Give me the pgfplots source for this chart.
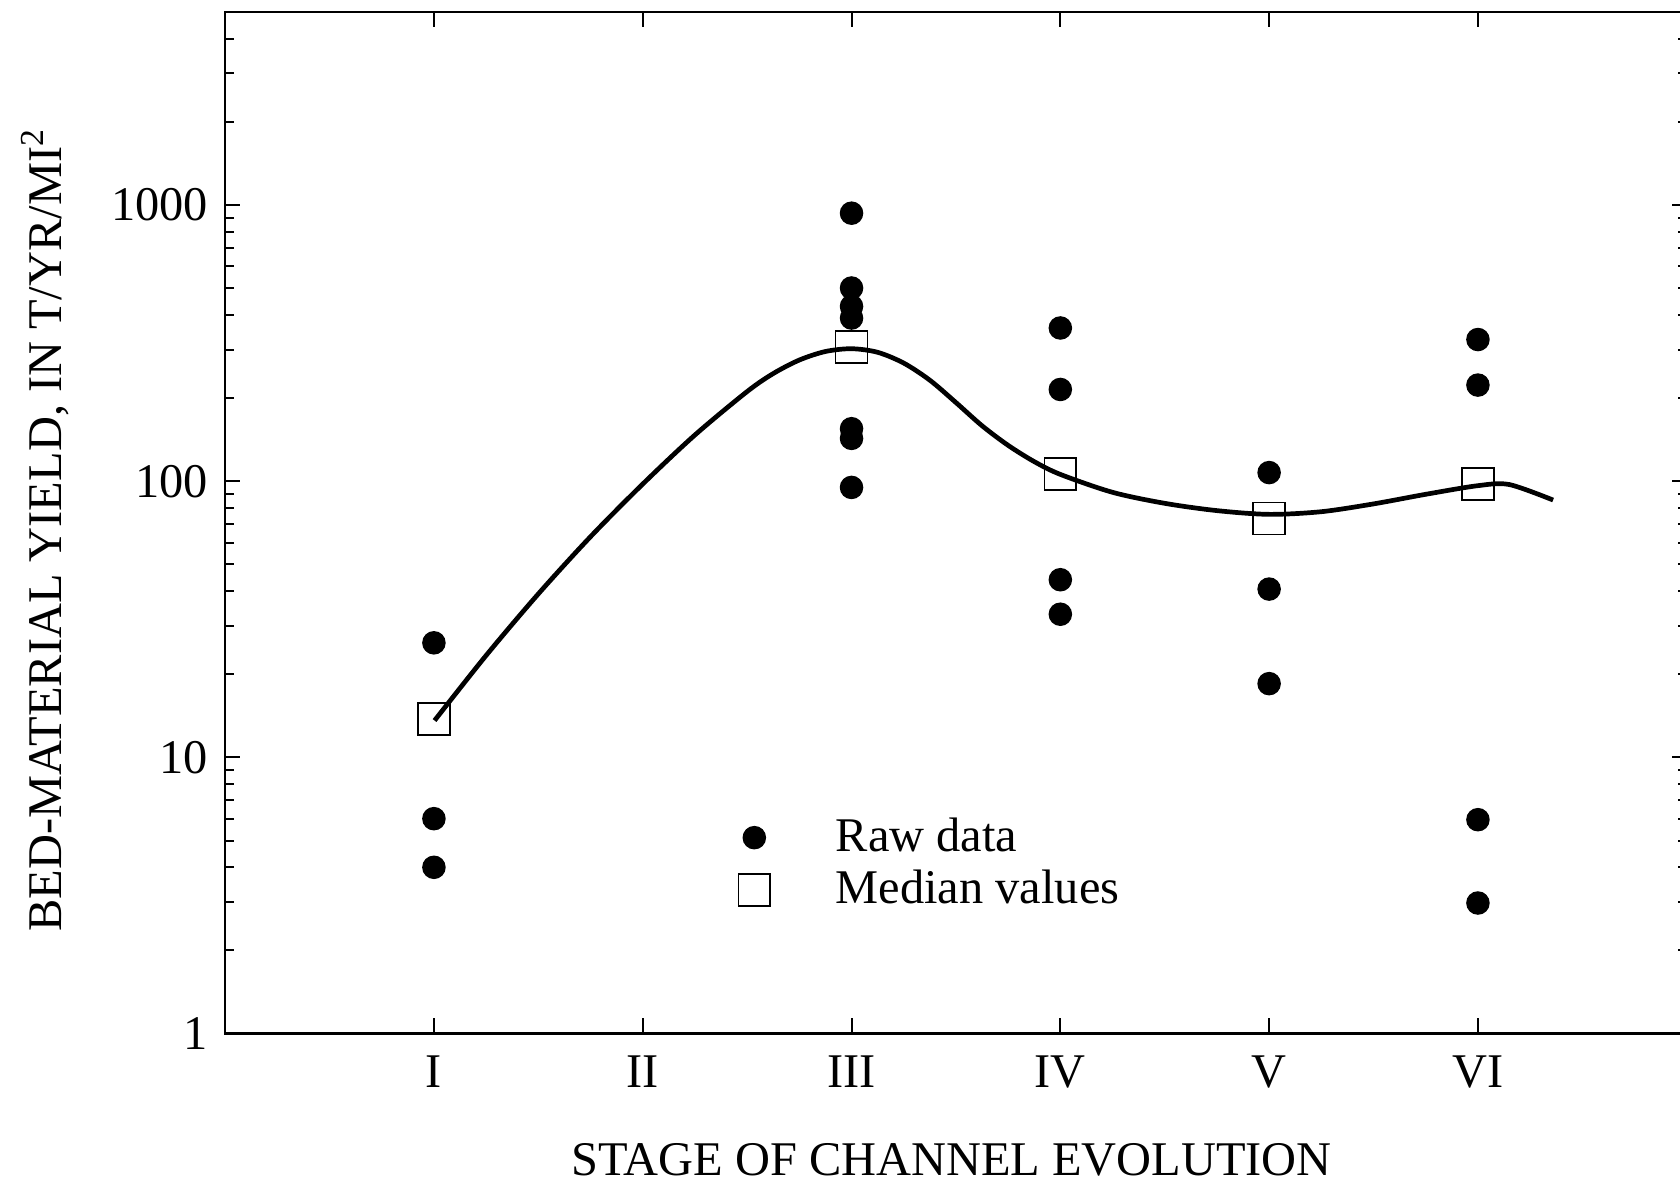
\documentclass[border=0pt]{standalone}
\usepackage{fontspec}
\setmainfont{Liberation Serif}
\usepackage{pgfplots}
\pgfplotsset{compat=1.18}
\pgfplotstableread{
x y
1 26
1 6.0
1 4.0
3 935
3 501
3 430
3 390
3 155
3 143
3 95
4 359
4 215
4 44
4 33
5 107.5
5 40.7
5 18.5
6 326
6 223
6 5.95
6 2.97
}\rawdata
\pgfplotstableread{
x y
1 13.8
3 306
4 106
5 73.3
6 97.6
}\mediandata
\pgfplotstableread{
x y
1.003 13.6
1.25 23.4
1.5 39.1
1.75 63.0
2.0 97.7
2.25 147.1
2.5 211.3
2.625 245.5
2.75 274.8
2.875 295.1
3.0 302.0
3.125 293.1
3.25 267.9
3.375 232.3
3.5 192.8
3.625 158.9
3.75 134.9
3.875 117.8
4.0 105.9
4.25 91.2
4.5 83.2
4.75 78.3
5.0 75.9
5.25 77.6
5.5 82.8
5.75 89.7
6.0 96.4
6.15 97.3
6.36 85.5
}\curvedata
\begin{document}
\begin{tikzpicture}
\begin{axis}[
  scale only axis, width=435pt, height=304pt,
  xmin=0, xmax=7, ymode=log, ymin=1, ymax=5000,
  axis line style={line width=0.7pt},
  xtick={1,2,3,4,5,6}, xticklabels={I,II,III,IV,V,VI},
  ytick={1,10,100,1000}, yticklabels={1,10,100,1000},
  minor ytick={2,3,4,5,6,7,8,9,20,30,40,50,60,70,80,90,200,300,400,500,600,700,800,900,2000,3000,4000},
  tick align=inside, major tick length=4.5pt, minor tick length=2.5pt,
  tick style={black, line width=0.6pt},
  font=\fontsize{14.4}{17}\selectfont,
  tick label style={font=\fontsize{14.4}{17}\selectfont},
  /pgf/number format/assume math mode=true,
  xticklabel style={yshift=-3pt},
  yticklabel style={xshift=-1.6pt},
  xlabel={STAGE OF CHANNEL EVOLUTION},
  xlabel style={at={(axis description cs:0.497,-0.1234)}, anchor=center, font=\fontsize{14.4}{17}\selectfont},
  ylabel={BED-MATERIAL YIELD, IN T/YR/MI\textsuperscript{2}},
  ylabel style={at={(axis description cs:-0.1232,0.493)}, anchor=center, font=\fontsize{14.4}{17}\selectfont},
  legend style={draw=none, fill=none, at={(axis description cs:0.3438,0.2245)}, anchor=north west, font=\fontsize{14.4}{17}\selectfont, row sep=0pt, column sep=17.5pt},
  legend cell align=left,
]
\addplot[only marks, mark=*, mark size=3.3pt, black] table[x=x,y=y] {\rawdata};
\addlegendentry{Raw data}
\addplot[only marks, mark=square, mark size=4.75pt, black, mark options={line width=0.5pt}] table[x=x,y=y] {\mediandata};
\addlegendentry{Median values}
\addplot[smooth, black, line width=1.4pt, forget plot] table[x=x,y=y] {\curvedata};
\end{axis}
\pgfresetboundingbox
\path[use as bounding box] ([xshift=-67pt,yshift=-45.3pt]current axis.south west) rectangle ([xshift=-2pt,yshift=3.6pt]current axis.north east);
\end{tikzpicture}
\end{document}
